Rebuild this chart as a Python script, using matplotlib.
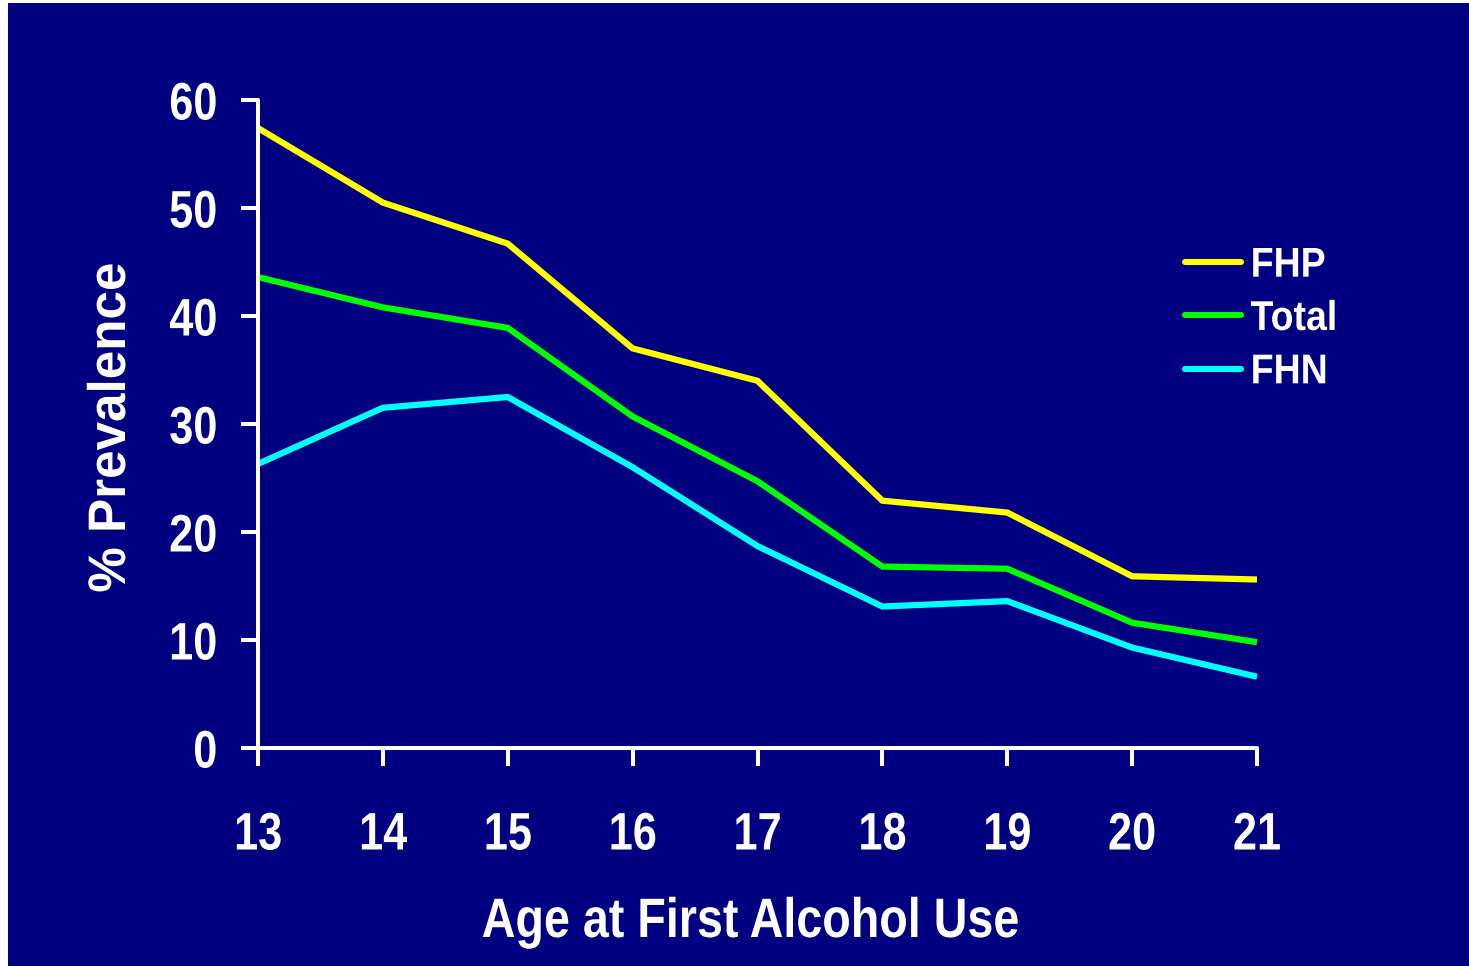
import matplotlib
matplotlib.use("Agg")
import matplotlib.pyplot as plt
from matplotlib.patches import Rectangle
from matplotlib.patheffects import AbstractPathEffect
from matplotlib.transforms import Affine2D

ages = [13, 14, 15, 16, 17, 18, 19, 20, 21]
fhp = [57.4, 50.5, 46.7, 37.0, 34.0, 22.9, 21.8, 15.9, 15.6]
total = [43.6, 40.8, 38.9, 30.7, 24.7, 16.8, 16.6, 11.6, 9.8]
fhn = [26.3, 31.5, 32.5, 26.0, 18.7, 13.1, 13.6, 9.3, 6.6]
series_names = ["FHP", "Total", "FHN"]
series_colors = ["#FFFF00", "#00FF00", "#00FFFF"]
yticks = [0, 10, 20, 30, 40, 50, 60]

navy = "#000080"
plt.rcParams['font.family'] = ['Liberation Sans', 'DejaVu Sans']
plt.rcParams['font.weight'] = 'bold'


class Squeeze(AbstractPathEffect):
    """Horizontally condense glyphs (the reference uses a narrow bold font)."""
    def __init__(self, sx, anchor='center'):
        super().__init__()
        self.sx = sx
        self.anchor = anchor

    def draw_path(self, renderer, gc, tpath, affine, rgbFace=None):
        ext = tpath.get_extents()
        if self.anchor == 'center':
            cx = (ext.x0 + ext.x1) / 2
        elif self.anchor == 'right':
            cx = ext.x1
        else:
            cx = ext.x0
        t = Affine2D().translate(-cx, 0).scale(self.sx, 1).translate(cx, 0) + affine
        renderer.draw_path(gc, tpath, t, rgbFace)


W, H = 1469, 966
fig = plt.figure(figsize=(W / 100, H / 100), dpi=100, facecolor="white")
fig.patches.append(Rectangle((8 / W, 0), 1 - 8 / W, 1 - 3 / H, transform=fig.transFigure,
                             facecolor=navy, edgecolor="none", zorder=-10))

ax = fig.add_axes([258 / W, 1 - 748 / H, (1257 - 258) / W, (748 - 100) / H])
ax.set_facecolor(navy)
ax.patch.set_alpha(0)

for vals, name, col in zip([fhp, total, fhn], series_names, series_colors):
    ax.plot(ages, vals, color=col, lw=4.5, label=name, solid_capstyle='butt',
            solid_joinstyle='miter', clip_on=False)

ax.set_xlim(13, 21)
ax.set_ylim(0, 60)
ax.set_xticks(ages)
ax.set_yticks(yticks)
for s in ["top", "right"]:
    ax.spines[s].set_visible(False)
for s in ["left", "bottom"]:
    ax.spines[s].set_color("white")
    ax.spines[s].set_linewidth(2.9)
    ax.spines[s].set_capstyle('round')

ax.tick_params(axis='both', colors='white', width=2.9, direction='out')
ax.tick_params(axis='x', length=13, pad=32, labelsize=38)
ax.tick_params(axis='y', length=12, pad=17, labelsize=38)
for lab in ax.get_xticklabels():
    lab.set_fontweight('bold')
    lab.set_path_effects([Squeeze(0.82, 'center')])
for lab in ax.get_yticklabels():
    lab.set_fontweight('bold')
    lab.set_path_effects([Squeeze(0.82, 'right')])

fig.text(750 / W, 1 - 923 / H, "Age at First Alcohol Use", color="white", fontsize=40,
         fontweight='bold', ha='center', va='center',
         path_effects=[Squeeze(0.84, 'center')])
fig.text(111 / W, 1 - 428 / H, "% Prevalence", color="white", fontsize=38,
         fontweight='bold', ha='center', va='center', rotation=90,
         path_effects=[Squeeze(0.97, 'center')])

leg = ax.legend(loc='center left', bbox_to_anchor=(1185 / W, 1 - 319 / H),
                bbox_transform=fig.transFigure, frameon=False, fontsize=30,
                handlelength=1.35, handletextpad=0.22, labelspacing=0.32,
                borderpad=0, borderaxespad=0)
for t in leg.get_texts():
    t.set_color("white")
    t.set_fontweight('bold')
    t.set_path_effects([Squeeze(0.9, 'left')])
for l in leg.get_lines():
    l.set_linewidth(4.4)
    l.set_solid_capstyle('round')

fig.savefig("out.png", dpi=100, facecolor=fig.get_facecolor())
